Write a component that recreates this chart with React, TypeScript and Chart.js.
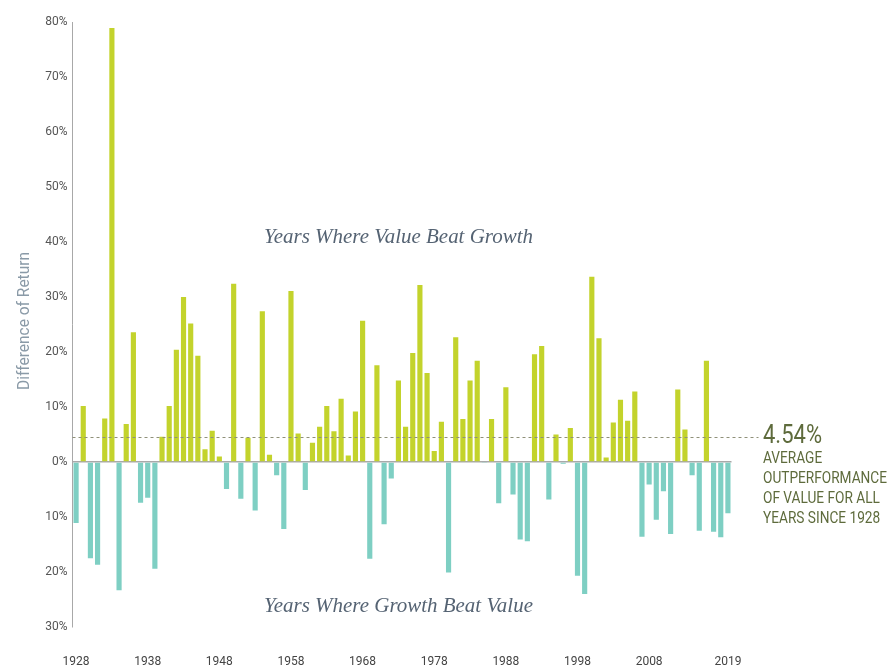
import React, { useEffect, useRef } from "react";
import { Chart, registerables } from "chart.js";

Chart.register(...registerables);

const years: string[] = [
  "1928","1929","1930","1931","1932","1933","1934","1935","1936","1937",
  "1938","1939","1940","1941","1942","1943","1944","1945","1946","1947",
  "1948","1949","1950","1951","1952","1953","1954","1955","1956","1957",
  "1958","1959","1960","1961","1962","1963","1964","1965","1966","1967",
  "1968","1969","1970","1971","1972","1973","1974","1975","1976","1977",
  "1978","1979","1980","1981","1982","1983","1984","1985","1986","1987",
  "1988","1989","1990","1991","1992","1993","1994","1995","1996","1997",
  "1998","1999","2000","2001","2002","2003","2004","2005","2006","2007",
  "2008","2009","2010","2011","2012","2013","2014","2015","2016","2017",
  "2018","2019",
];

const valueMinusGrowth: number[] = [
  -11.1, 10.2, -17.5, -18.7, 7.9, 78.9, -23.3, 6.9, 23.6, -7.4,
  -6.5, -19.4, 4.6, 10.2, 20.4, 30.0, 25.2, 19.3, 2.3, 5.7,
  1.0, -4.9, 32.4, -6.7, 4.4, -8.8, 27.4, 1.3, -2.4, -12.2,
  31.1, 5.2, -5.1, 3.5, 6.4, 10.2, 5.6, 11.5, 1.2, 9.2,
  25.7, -17.6, 17.6, -11.3, -3.0, 14.8, 6.4, 19.8, 32.2, 16.2,
  2.0, 7.3, -20.1, 22.7, 7.8, 14.8, 18.4, -0.2, 7.8, -7.5,
  13.6, -5.9, -14.1, -14.4, 19.6, 21.1, -6.8, 5.0, -0.3, 6.2,
  -20.7, -24.0, 33.7, 22.5, 0.8, 7.2, 11.3, 7.5, 12.8, -13.6,
  -4.1, -10.5, -5.3, -13.1, 13.2, 5.9, -2.4, -12.5, 18.4, -12.7,
  -13.7, -9.3,
];

const xTickLabels: string[] = ["1928","1938","1948","1958","1968","1978","1988","1998","2008","2019"];

const AVERAGE = 4.54;
const averageLabel = "4.54%";
const averageNote: string[] = ["AVERAGE", "OUTPERFORMANCE", "OF VALUE FOR ALL", "YEARS SINCE 1928"];
const valueText = "Years Where Value Beat Growth";
const growthText = "Years Where Growth Beat Value";
const yTitle = "Difference of Return";

const SANS = "Roboto, 'Liberation Sans', sans-serif";
const SERIF = "'Liberation Serif', 'DejaVu Serif', serif";

const POS = "#c3d32c";
const NEG = "#7ecfc3";

// draws text horizontally compressed by a given factor (condensed look)
function drawCondensed(ctx: CanvasRenderingContext2D, text: string, x: number, y: number, size: number, sx: number) {
  ctx.font = `${size}px ${SANS}`;
  ctx.save();
  ctx.translate(x, y);
  ctx.scale(sx, 1);
  ctx.fillText(text, 0, 0);
  ctx.restore();
}

function fitScale(ctx: CanvasRenderingContext2D, text: string, size: number, target: number) {
  ctx.font = `${size}px ${SANS}`;
  return target / ctx.measureText(text).width;
}

const annotations = {
  id: "annotations",
  afterDatasetsDraw(chart: any) {
    const { ctx, chartArea, scales } = chart;
    const y = scales.y;
    const yAvg = y.getPixelForValue(AVERAGE);
    ctx.save();
    // average dashed line
    ctx.setLineDash([3, 3]);
    ctx.strokeStyle = "#8f9079";
    ctx.lineWidth = 1;
    ctx.beginPath();
    ctx.moveTo(chartArea.left, Math.round(yAvg) + 0.5);
    ctx.lineTo(chartArea.right + 27, Math.round(yAvg) + 0.5);
    ctx.stroke();
    ctx.setLineDash([]);

    const tx = chartArea.right + 31.5;
    ctx.fillStyle = "#5e6b3c";
    ctx.textAlign = "left";
    ctx.textBaseline = "alphabetic";
    const s1 = fitScale(ctx, averageLabel, 25, 59);
    drawCondensed(ctx, averageLabel, tx, yAvg + 6, 25, s1);

    const s2 = fitScale(ctx, averageNote[1], 16, 124);
    averageNote.forEach((line, i) => {
      drawCondensed(ctx, line, tx, yAvg + 26.3 + i * 20, 16, s2);
    });

    // region captions
    const cx = (chartArea.left + chartArea.right) / 2 - 3.5;
    ctx.fillStyle = "#556373";
    ctx.textAlign = "center";
    ctx.textBaseline = "middle";
    ctx.font = `italic 20px ${SERIF}`;
    let sz = 20 * 269 / ctx.measureText(valueText).width;
    ctx.font = `italic ${sz.toFixed(2)}px ${SERIF}`;
    ctx.fillText(valueText, cx, y.getPixelForValue(40.9));
    ctx.font = `italic 20px ${SERIF}`;
    sz = 20 * 269 / ctx.measureText(growthText).width;
    ctx.font = `italic ${sz.toFixed(2)}px ${SERIF}`;
    ctx.fillText(growthText, cx, y.getPixelForValue(-26.2));

    // y axis title
    ctx.save();
    ctx.translate(25, 321);
    ctx.rotate(-Math.PI / 2);
    ctx.fillStyle = "#8a9aa7";
    ctx.textAlign = "center";
    ctx.textBaseline = "middle";
    const s3 = fitScale(ctx, yTitle, 17, 138);
    drawCondensed(ctx, yTitle, 0, 0, 17, s3);
    ctx.restore();
    ctx.restore();
  },
};

export default function App() {
  const ref = useRef<HTMLCanvasElement | null>(null);
  useEffect(() => {
    document.body.style.margin = "0";
    document.body.style.overflow = "hidden";
    const canvas = ref.current!;
    const chart = new Chart(canvas, {
      type: "bar",
      data: {
        labels: years,
        datasets: [
          {
            data: valueMinusGrowth,
            backgroundColor: valueMinusGrowth.map((v) => (v >= 0 ? POS : NEG)),
            barPercentage: 0.72,
            categoryPercentage: 1,
          },
        ],
      },
      options: {
        animation: false,
        responsive: false,
        devicePixelRatio: 1,
        layout: { padding: { left: 0, right: 156.5, top: 22, bottom: 0 } },
        plugins: { legend: { display: false }, tooltip: { enabled: false } },
        scales: {
          x: {
            grid: { display: false, drawTicks: false },
            border: { display: false },
            afterFit: (s: any) => {
              s.height = 53;
            },
            ticks: {
              autoSkip: false,
              maxRotation: 0,
              padding: 28,
              color: "#444",
              font: { family: SANS, size: 12 },
              callback: function (this: any, _v: any, i: number) {
                const lab = years[i];
                return xTickLabels.includes(lab) ? lab : "";
              },
            },
          },
          y: {
            min: -30,
            max: 80,
            afterFit: (s: any) => {
              s.width = 72.5;
            },
            border: { display: true, color: "#a8a8a8", width: 1 },
            grid: {
              drawTicks: false,
              lineWidth: 1.5,
              color: (c: any) => (c.tick && c.tick.value === 0 ? "#a9a9a9" : "rgba(0,0,0,0)"),
            },
            ticks: {
              stepSize: 10,
              padding: 5,
              color: "#555",
              font: { family: SANS, size: 12 },
              callback: (v: any) => `${Math.abs(Number(v))}%`,
            },
          },
        },
      },
      plugins: [annotations],
    });
    return () => chart.destroy();
  }, []);
  return (
    <div style={{ width: 888, height: 680 }}>
      <canvas ref={ref} width={888} height={680} style={{ display: "block" }} />
    </div>
  );
}
